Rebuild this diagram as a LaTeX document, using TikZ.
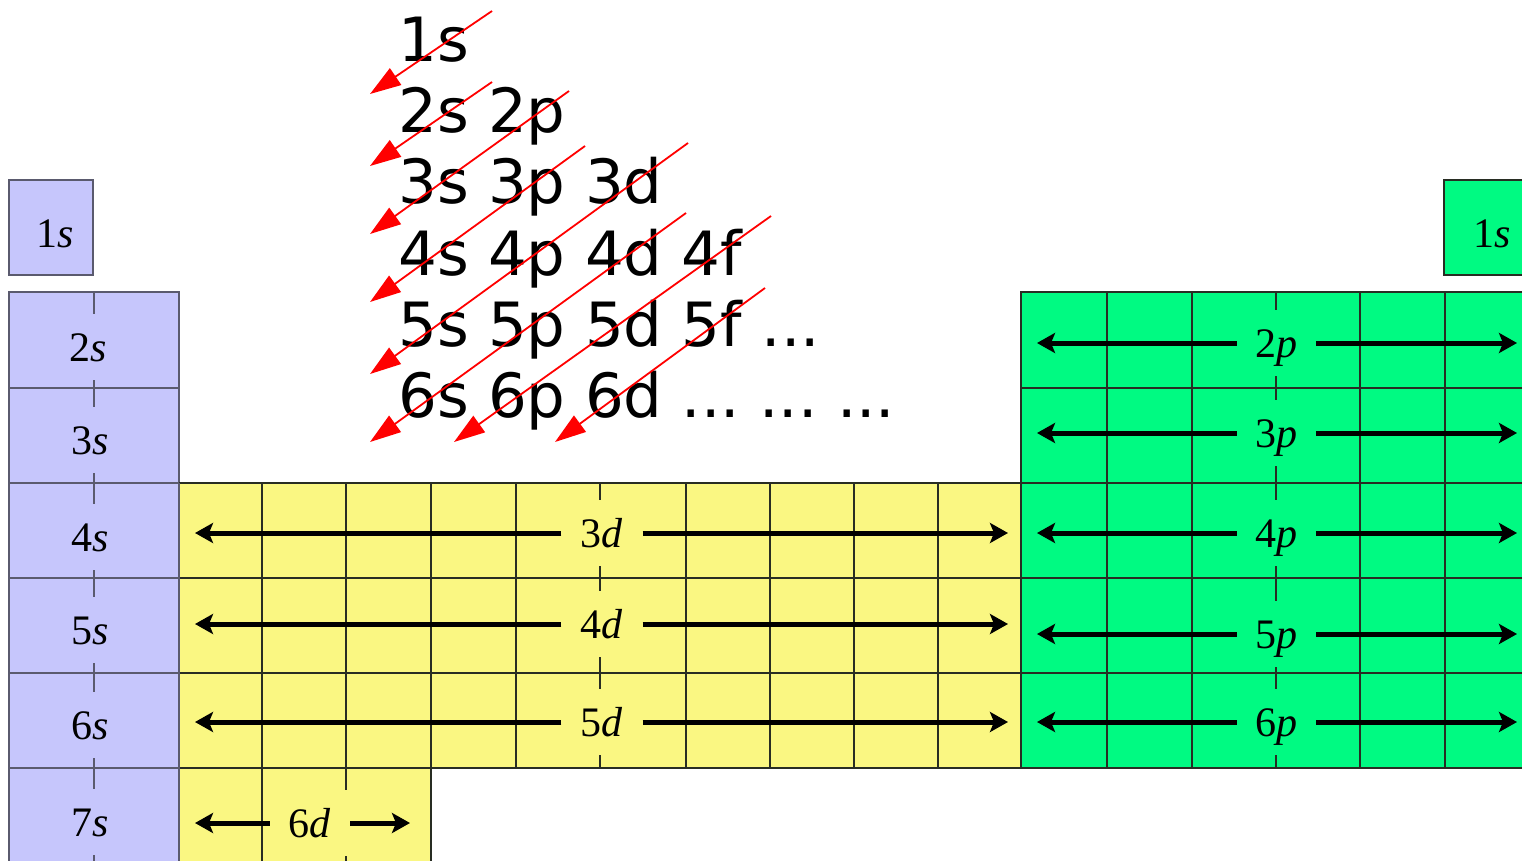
\documentclass[tikz,border=0pt]{standalone}
\usepackage{fontspec}
\setmainfont{Liberation Serif}
\newfontfamily\djs{DejaVu Sans}
\usetikzlibrary{arrows.meta}
\definecolor{sblue}{RGB}{198,198,252}
\definecolor{dyel}{RGB}{250,247,130}
\definecolor{pgrn}{RGB}{0,250,130}
\definecolor{gridc}{RGB}{40,45,35}
\definecolor{sline}{RGB}{90,90,110}
\begin{document}
\frenchspacing
\begin{tikzpicture}[x=1pt,y=-1pt,
  sl/.style={draw=sline, line width=2pt},
  gl/.style={draw=gridc, line width=2pt},
  lab/.style={font=\fontsize{42}{44}\selectfont, text height=28.4pt, text depth=0pt,
    inner sep=0pt, minimum height=66pt},
  slab/.style={lab, fill=sblue, minimum width=56pt},
  dlab/.style={lab, fill=dyel, minimum width=81pt},
  plab/.style={lab, fill=pgrn, minimum width=79pt},
  bar/.style={line width=5pt, -{Stealth[length=18pt,width=20pt,inset=4pt]}},
  seq/.style={font=\djs\fontsize{61}{71}\selectfont, anchor=base west, inner sep=0pt},
  redarr/.style={red, line width=1.8pt, -{Triangle[length=31pt,width=20pt]}},
]
\useasboundingbox (0,0) rectangle (1522,861);
\clip (0,0) rectangle (1522,861);
\fill[white] (0,0) rectangle (1522,861);

% s block
\draw[sl, fill=sblue] (9,180) rectangle (93,275);
\fill[sblue] (9,292) rectangle (179,880);
\foreach \y in {388,483,578,673,768} \draw[sl] (9,\y) -- (179,\y);
\draw[sl] (94,292) -- (94,880);
\draw[sl] (9,292) rectangle (179,880);

% d block
\fill[dyel] (179,483) rectangle (1021,768);
\fill[dyel] (179,768) rectangle (431,880);
\foreach \y in {578,673} \draw[gl] (179,\y) -- (1021,\y);
\foreach \x in {262,346,431,516,600,686,770,854,938} \draw[gl] (\x,483) -- (\x,768);
\foreach \x in {262,346} \draw[gl] (\x,768) -- (\x,880);
\draw[gl] (179,483) -- (1021,483) -- (1021,768) -- (431,768) -- (431,880);
\draw[gl] (179,768) -- (431,768);
\draw[sl] (179,483) -- (179,880);

% p block
\fill[pgrn] (1021,292) rectangle (1530,768);
\foreach \y in {388,483,578,673} \draw[gl] (1021,\y) -- (1530,\y);
\foreach \x in {1107,1192,1276,1360,1445} \draw[gl] (\x,292) -- (\x,768);
\draw[gl] (1530,292) -- (1021,292) -- (1021,768) -- (1530,768);
\draw[gl, fill=pgrn] (1530,180) -- (1444,180) -- (1444,275) -- (1530,275);

% s labels
\node[slab] (s1) at (55,233) {1\textit{s}};
\node[slab] (s2) at (88,347) {2\textit{s}};
\node[slab] (s3) at (90,440) {3\textit{s}};
\node[slab] (s4) at (90,537) {4\textit{s}};
\node[slab] (s5) at (90,630) {5\textit{s}};
\node[slab] (s6) at (90,725) {6\textit{s}};
\node[slab] (s7) at (90,822) {7\textit{s}};
\node[lab, fill=pgrn, minimum width=50pt] (s1r) at (1492,233) {1\textit{s}};

% d labels and arrows
\coordinate (dL) at (195,0);
\coordinate (dR) at (1008,0);
\coordinate (d6R) at (410,0);
\node[dlab] (d3) at (602,533) {3\textit{d}};
\node[dlab] (d4) at (602,624) {4\textit{d}};
\node[dlab] (d5) at (602,722) {5\textit{d}};
\node[dlab, minimum width=80pt] (d6) at (310,823) {6\textit{d}};
\foreach \n in {d3,d4,d5,d6} \draw[bar] (\n.west) -- (\n.west -| dL);
\foreach \n in {d3,d4,d5} \draw[bar] (\n.east) -- (\n.east -| dR);
\draw[bar] (d6.east) -- (d6.east -| d6R);

% p labels and arrows
\coordinate (pL) at (1037,0);
\coordinate (pR) at (1517,0);
\node[plab] (p2) at (1276.5,343) {2\textit{p}};
\node[plab] (p3) at (1276.5,433) {3\textit{p}};
\node[plab] (p4) at (1276.5,533) {4\textit{p}};
\node[plab] (p5) at (1276.5,634) {5\textit{p}};
\node[plab] (p6) at (1276.5,722) {6\textit{p}};
\foreach \n in {p2,p3,p4,p5,p6} {
  \draw[bar] (\n.west) -- (\n.west -| pL);
  \draw[bar] (\n.east) -- (\n.east -| pR);
}

% filling order text
\node[seq] (n1) at (398,62) {1s};
\node[seq] (n2) at (398,133) {2s 2p};
\node[seq] (n3) at (398,204) {3s 3p 3d};
\node[seq] (n4) at (398,275) {4s 4p 4d 4f};
\node[seq] (n5) at (398,346) {5s 5p 5d 5f ...};
\node[seq] (n6) at (398,417) {6s 6p 6d ... ... ...};

% red diagonal arrows
\coordinate (a1) at (492,11);  \coordinate (b1) at (370,94);
\coordinate (a2) at (492,82);  \coordinate (b2) at (370,166);
\coordinate (a3) at (569,91);  \coordinate (b3) at (370,234);
\coordinate (a4) at (585,146); \coordinate (b4) at (370,302);
\coordinate (a5) at (688,143); \coordinate (b5) at (370,374);
\coordinate (a6) at (686,213); \coordinate (b6) at (370,442);
\coordinate (a7) at (771,216); \coordinate (b7) at (454,442);
\coordinate (a8) at (765,288); \coordinate (b8) at (555,442);
\foreach \i in {1,...,8} \draw[redarr] (a\i) -- (b\i);
\end{tikzpicture}
\end{document}
